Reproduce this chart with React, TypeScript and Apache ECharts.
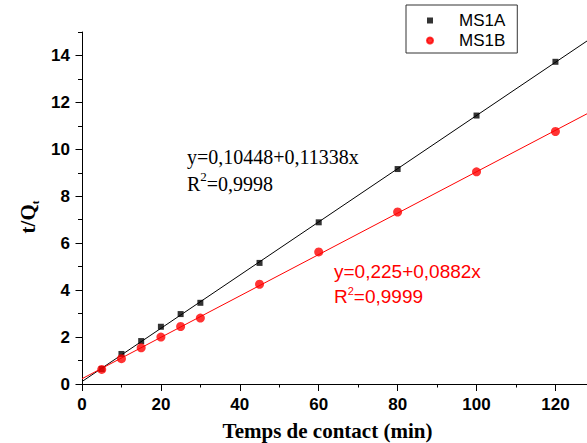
import React, { useEffect, useRef } from "react";
import * as echarts from "echarts";

// ---- data ----
const seriesNames = ["MS1A", "MS1B"];
const timesMin = [5, 10, 15, 20, 25, 30, 45, 60, 80, 100, 120];
const ms1aValues = [0.64, 1.28, 1.83, 2.44, 2.98, 3.46, 5.16, 6.89, 9.16, 11.44, 13.73];
const ms1bValues = [0.62, 1.08, 1.54, 2.0, 2.45, 2.81, 4.25, 5.63, 7.33, 9.04, 10.76];
// linear fits: [intercept, slope]
const fitA = [0.10448, 0.11338];
const fitB = [0.225, 0.0882];
const fitXRange = [0, 128];
const equationA = ["y=0,10448+0,11338x", "0,9998"];
const equationB = ["y=0,225+0,0882x", "0,9999"];
const xMajorTicks = [0, 20, 40, 60, 80, 100, 120];
const xMinorTicks = [10, 30, 50, 70, 90, 110];
const yMajorTicks = [0, 2, 4, 6, 8, 10, 12, 14];
const yMinorTicks = [1, 3, 5, 7, 9, 11, 13, 15];
const xRange = [0, 128];
const yRange = [0, 15];

const SANS = "'Liberation Sans', Arial, sans-serif";
const SERIF = "'Liberation Serif', 'Times New Roman', serif";

export default function App() {
  const ref = useRef<HTMLDivElement>(null);
  useEffect(() => {
    if (!ref.current) return;
    const chart = echarts.init(ref.current, null, { renderer: "svg" });
    const fitLine = (c: number[]) => fitXRange.map((x) => [x, c[0] + c[1] * x]);
    const labelStyle = {
      color: "#000",
      fontFamily: SANS,
      fontWeight: "bold" as const,
      fontSize: 17,
    };
    const lineStyle = { color: "#000", width: 1 };
    const baseX = {
      type: "value" as const,
      min: xRange[0],
      max: xRange[1],
      position: "bottom" as const,
      splitLine: { show: false },
    };
    const baseY = {
      type: "value" as const,
      min: yRange[0],
      max: yRange[1],
      position: "left" as const,
      splitLine: { show: false },
    };
    chart.setOption({
      animation: false,
      backgroundColor: "#fff",
      grid: {
        left: 82,
        top: 32,
        right: 0,
        bottom: 59,
        containLabel: false,
        outerBoundsMode: "none",
      },
      xAxis: [
        {
          ...baseX,
          axisLine: { show: true, lineStyle },
          axisTick: { show: true, customValues: xMajorTicks, length: 7, lineStyle },
          axisLabel: { ...labelStyle, customValues: xMajorTicks, margin: 12 },
          name: "Temps de contact (min)",
          nameLocation: "middle",
          nameGap: 36,
          nameTextStyle: {
            fontFamily: SERIF,
            fontWeight: "bold",
            fontSize: 21,
            color: "#000",
            padding: [0, 14, 0, 0],
          },
        },
        {
          ...baseX,
          axisLine: { show: false },
          axisTick: { show: true, customValues: xMinorTicks, length: 3.5, lineStyle },
          axisLabel: { show: false },
        },
      ],
      yAxis: [
        {
          ...baseY,
          axisLine: { show: true, lineStyle },
          axisTick: { show: true, customValues: yMajorTicks, length: 6.5, lineStyle },
          axisLabel: { ...labelStyle, customValues: yMajorTicks, margin: 12 },
          name: "{a|t/Q}{b|t}",
          nameLocation: "middle",
          nameRotate: 90,
          nameGap: 27,
          nameTextStyle: {
            padding: [0, 18, 0, 0],
            rich: {
              a: { fontFamily: SERIF, fontSize: 21, fontWeight: "bold", color: "#000", lineHeight: 24 },
              b: { fontFamily: SERIF, fontSize: 11, fontWeight: "bold", color: "#000", verticalAlign: "bottom", lineHeight: 11 },
            },
          },
        },
        {
          ...baseY,
          axisLine: { show: false },
          axisTick: { show: true, customValues: yMinorTicks, length: 4, lineStyle },
          axisLabel: { show: false },
        },
      ],
      legend: {
        orient: "vertical",
        left: 406,
        top: 5,
        padding: [7, 12, 4, 20],
        itemGap: 3,
        itemWidth: 6,
        itemHeight: 6,
        borderColor: "#333",
        borderWidth: 1,
        backgroundColor: "#fff",
        data: [
          { name: seriesNames[0], icon: "rect" },
          { name: seriesNames[1], icon: "circle", itemStyle: { borderColor: "#ff0000", borderWidth: 2 } },
        ],
        textStyle: {
          fontFamily: SANS,
          fontSize: 17,
          color: "#000",
          lineHeight: 17,
          padding: [0, 0, 0, 21],
        },
      },
      series: [
        {
          type: "line",
          name: "fitA",
          data: fitLine(fitA),
          symbol: "none",
          lineStyle: { color: "#000", width: 1 },
          silent: true,
          z: 1,
        },
        {
          type: "line",
          name: "fitB",
          data: fitLine(fitB),
          symbol: "none",
          lineStyle: { color: "#ff0000", width: 1 },
          silent: true,
          z: 1,
        },
        {
          type: "scatter",
          name: seriesNames[0],
          data: timesMin.map((t, i) => [t, ms1aValues[i]]),
          symbol: "rect",
          symbolSize: 6,
          itemStyle: { color: "#000" },
          z: 3,
        },
        {
          type: "scatter",
          name: seriesNames[1],
          data: timesMin.map((t, i) => [t, ms1bValues[i]]),
          symbol: "circle",
          symbolSize: 9,
          itemStyle: { color: "#ff0000" },
          z: 3,
        },
      ],
      graphic: [
        {
          type: "text",
          x: 187,
          y: 157,
          style: {
            text: equationA[0],
            fontFamily: SERIF,
            fontSize: 20,
            fill: "#000",
            verticalAlign: "middle",
          },
        },
        {
          type: "text",
          x: 187,
          y: 184,
          style: {
            text: "{r|R}{s|2}{r|=" + equationA[1] + "}",
            verticalAlign: "middle",
            rich: {
              r: { fontFamily: SERIF, fontSize: 20, fill: "#000", lineHeight: 29 },
              s: { fontFamily: SERIF, fontSize: 13, fill: "#000", lineHeight: 13, verticalAlign: "top" },
            },
          },
        },
        {
          type: "text",
          x: 334,
          y: 271,
          style: {
            text: equationB[0],
            fontFamily: SANS,
            fontSize: 19,
            fill: "#ff0000",
            verticalAlign: "middle",
          },
        },
        {
          type: "text",
          x: 334,
          y: 296,
          style: {
            text: "{r|R}{s|2}{r|=" + equationB[1] + "}",
            verticalAlign: "middle",
            rich: {
              r: { fontFamily: SANS, fontSize: 19, fill: "#ff0000", lineHeight: 21 },
              s: { fontFamily: SANS, fontSize: 11, fill: "#ff0000", lineHeight: 11, verticalAlign: "top" },
            },
          },
        },
      ],
    });
    return () => chart.dispose();
  }, []);
  return (
    <div
      ref={ref}
      style={{ position: "absolute", left: 0, top: 0, width: 587, height: 443 }}
    />
  );
}
